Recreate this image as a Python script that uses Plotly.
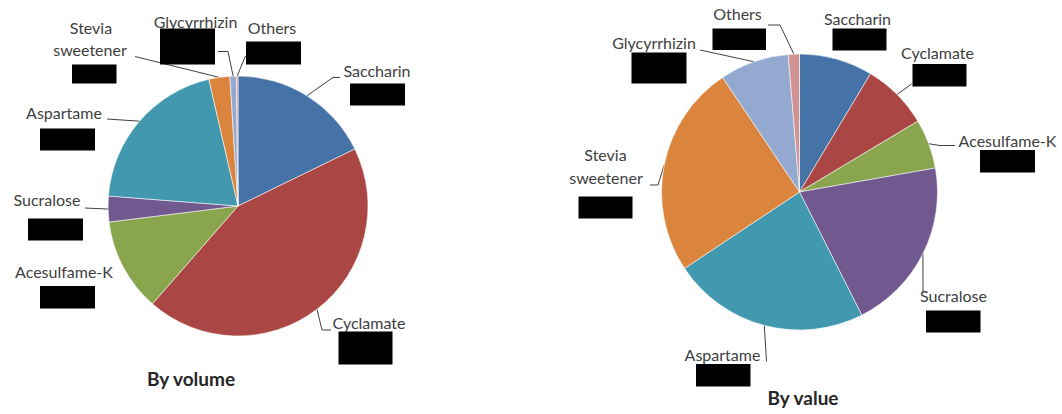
import math
import plotly.graph_objects as go

W, H = 1062, 414

# ---------------- data ----------------
sweeteners = ["Saccharin", "Cyclamate", "Acesulfame-K", "Sucralose",
              "Aspartame", "Stevia sweetener", "Glycyrrhizin", "Others"]
share_by_volume = [17.8, 43.7, 11.6, 3.2, 20.2, 2.6, 0.8, 0.2]
share_by_value = [8.6, 7.8, 5.8, 20.3, 23.1, 24.9, 8.1, 1.3]
titles = ["By volume", "By value"]

colors = ["#4572A7", "#AA4643", "#89A54E", "#71588F",
          "#4198AF", "#DB843D", "#93A9CF", "#D19392"]

# ---------------- layout (pixel geometry) ----------------
pies = [
    dict(cx=238, cy=206, r=130, vals=share_by_volume, title_xy=(191, 381)),
    dict(cx=799.5, cy=192, r=138, vals=share_by_value, title_xy=(803, 400)),
]

# per chart: label text lines (text, x, y), redaction box, leader points (label side)
label_layout = [
    {
        "Saccharin": dict(lines=[("Saccharin", 377, 72.5)], box=(350, 83.5, 405, 105.5),
                          lead=[(340, 77.5), (333, 77.5)]),
        "Cyclamate": dict(lines=[("Cyclamate", 369, 325)], box=(338.5, 331.5, 392.5, 364.5),
                          lead=[(331, 330), (322, 330)]),
        "Acesulfame-K": dict(lines=[("Acesulfame-K", 64, 274)], box=(40, 286, 95, 308.5),
                             lead=[]),
        "Sucralose": dict(lines=[("Sucralose", 47, 202)], box=(28, 218.5, 83, 240.5),
                          lead=[(85, 208)]),
        "Aspartame": dict(lines=[("Aspartame", 64, 115)], box=(40, 128.5, 95, 150.5),
                          lead=[(107, 119)]),
        "Stevia sweetener": dict(lines=[("Stevia", 91, 29.5), ("sweetener", 90, 51.5)],
                                 box=(72, 64.5, 116.5, 83.5), lead=[(135, 56.5)]),
        "Glycyrrhizin": dict(lines=[("Glycyrrhizin", 195.5, 24)], box=(160, 28.5, 215, 64.5),
                             lead=[(218, 51.5), (228, 51.5)]),
        "Others": dict(lines=[("Others", 272, 29.5)], box=(246, 41.5, 301, 64.5),
                       lead=[(245.5, 56)]),
    },
    {
        "Saccharin": dict(lines=[("Saccharin", 857.5, 20.5)], box=(832.5, 28.5, 886.5, 50.5),
                          lead=[]),
        "Cyclamate": dict(lines=[("Cyclamate", 937.5, 55)], box=(912.5, 64, 966.5, 86.5),
                          lead=[(911.5, 84)]),
        "Acesulfame-K": dict(lines=[("Acesulfame-K", 1007.5, 142.5)], box=(980, 150, 1035, 172.5),
                             lead=[(955, 145.5), (940, 145.5)]),
        "Sucralose": dict(lines=[("Sucralose", 953.5, 297.5)], box=(926, 310.5, 980.5, 332.5),
                          lead=[(923, 293)]),
        "Aspartame": dict(lines=[("Aspartame", 722.5, 356.5)], box=(696, 364, 750.5, 386.5),
                          lead=[(766.5, 361.5)]),
        "Stevia sweetener": dict(lines=[("Stevia", 605.5, 156.5), ("sweetener", 606, 180)],
                                 box=(578.5, 196.5, 632.5, 218.5), lead=[(650, 185), (658, 185)]),
        "Glycyrrhizin": dict(lines=[("Glycyrrhizin", 654, 45)], box=(631.5, 52.5, 686.5, 83.5),
                             lead=[(700, 50)]),
        "Others": dict(lines=[("Others", 737.5, 16)], box=(712.5, 28.5, 766, 50),
                       lead=[(768, 25), (780, 25)]),
    },
]

LABEL_FONT = dict(family="Lato, 'Open Sans', sans-serif", size=16, color="#404040")
TITLE_FONT = dict(family="Lato, 'Open Sans', sans-serif", size=19, color="#262626")

fig = go.Figure()

# pies
for p in pies:
    fig.add_trace(go.Pie(
        labels=sweeteners, values=p["vals"], sort=False, direction="clockwise",
        rotation=0, textinfo="none", hoverinfo="label+value", showlegend=False,
        marker=dict(colors=colors, line=dict(color="rgba(255,255,255,0.7)", width=0.8)),
        domain=dict(x=[(p["cx"] - p["r"]) / W, (p["cx"] + p["r"]) / W],
                    y=[1 - (p["cy"] + p["r"]) / H, 1 - (p["cy"] - p["r"]) / H]),
    ))

shapes = []
for p, lay in zip(pies, label_layout):
    total = sum(p["vals"])
    cum = 0.0
    tx, ty, tt = [], [], []
    for name, v in zip(sweeteners, p["vals"]):
        mid = (cum + v / 2) / total * 2 * math.pi
        cum += v
        ex = p["cx"] + p["r"] * math.sin(mid)
        ey = p["cy"] - p["r"] * math.cos(mid)
        L = lay[name]
        if L["lead"]:
            pts = L["lead"] + [(ex, ey)]
            fig.add_trace(go.Scatter(
                x=[q[0] for q in pts], y=[q[1] for q in pts], mode="lines",
                line=dict(color="#404040", width=1), hoverinfo="skip", showlegend=False,
                xaxis="x", yaxis="y"))
        for (t, x, y) in L["lines"]:
            tx.append(x); ty.append(y); tt.append(t)
        x0, y0, x1, y1 = L["box"]
        shapes.append(dict(type="rect", xref="x", yref="y", x0=x0, y0=y0, x1=x1, y1=y1,
                           fillcolor="black", line=dict(width=0), layer="above"))
    fig.add_trace(go.Scatter(x=tx, y=ty, text=tt, mode="text", textfont=LABEL_FONT,
                             hoverinfo="skip", showlegend=False, xaxis="x", yaxis="y"))

fig.add_trace(go.Scatter(
    x=[p["title_xy"][0] for p in pies], y=[p["title_xy"][1] for p in pies],
    text=["<b>%s</b>" % t for t in titles], mode="text", textfont=TITLE_FONT,
    hoverinfo="skip", showlegend=False, xaxis="x", yaxis="y"))

fig.update_layout(
    width=W, height=H, margin=dict(l=0, r=0, t=0, b=0),
    paper_bgcolor="white", plot_bgcolor="rgba(0,0,0,0)",
    xaxis=dict(range=[0, W], domain=[0, 1], visible=False, fixedrange=True),
    yaxis=dict(range=[H, 0], domain=[0, 1], visible=False, fixedrange=True),
    shapes=shapes,
)

fig.write_html(
    "out.html",
    config={"displayModeBar": False},
    post_script="document.body.style.margin='0';document.body.style.overflow='hidden';",
)
